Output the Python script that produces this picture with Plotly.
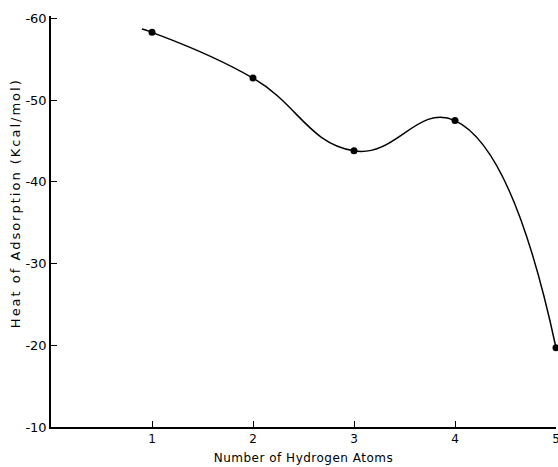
import plotly.graph_objects as go

# Data
n_hydrogen = [1, 2, 3, 4, 5]
heat_adsorption = [-58.3, -52.7, -43.8, -47.5, -19.7]

# smooth curve drawn through the points (starts slightly before x=1)
curve_x = [0.9, 1, 2, 3, 4, 5]
curve_y = [-58.7, -58.3, -52.7, -43.8, -47.5, -19.7]

y_ticks = [-60, -50, -40, -30, -20, -10]
y_tick_text = ["-60", "-50", "-40", "-30", "-20", "-10"]
x_ticks = [1, 2, 3, 4, 5]

font = "DejaVu Sans, Liberation Sans, sans-serif"

fig = go.Figure()
fig.add_trace(go.Scatter(
    x=curve_x, y=curve_y, mode="lines",
    line=dict(color="black", width=1.5, shape="spline", smoothing=1.3),
    cliponaxis=False, hoverinfo="skip"))
fig.add_trace(go.Scatter(
    x=n_hydrogen, y=heat_adsorption, mode="markers",
    marker=dict(color="black", size=7),
    cliponaxis=False))

fig.update_layout(
    width=558, height=467,
    margin=dict(l=51, r=2, t=16, b=40, autoexpand=False),
    paper_bgcolor="white", plot_bgcolor="white",
    showlegend=False,
    font=dict(family=font, color="black", size=12),
    annotations=[dict(
        text='<span style="letter-spacing:2px">Heat of Adsorption (Kcal/mol)</span>',
        textangle=-90, xref="paper", yref="paper",
        x=-0.071, y=0.545, xanchor="center", yanchor="middle",
        showarrow=False, font=dict(size=13))],
)
fig.update_xaxes(
    range=[0, 5.0], tickvals=x_ticks, ticktext=[str(v) for v in x_ticks],
    ticks="inside", ticklen=6, tickwidth=1.2, tickcolor="black",
    ticklabeloverflow="allow", automargin=False,
    showline=True, linecolor="black", linewidth=1.5,
    showgrid=False, zeroline=False,
    title=dict(text='<span style="letter-spacing:0.5px">Number of Hydrogen Atoms</span>',
               font=dict(size=12), standoff=8),
    tickfont=dict(size=12),
)
fig.update_yaxes(
    range=[-10, -60.3], tickvals=y_ticks, ticktext=y_tick_text,
    ticks="inside", ticklen=6, tickwidth=1.2, tickcolor="black",
    automargin=False,
    showline=True, linecolor="black", linewidth=1.5,
    showgrid=False, zeroline=False,
    tickfont=dict(size=13),
)

fig.write_html("out.html", config={"displayModeBar": False},
               post_script="document.body.style.margin='0';")
